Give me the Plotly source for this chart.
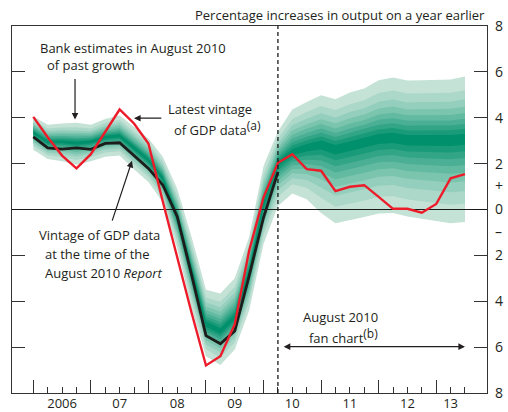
import plotly.graph_objects as go
from statistics import NormalDist

# Quarterly GDP growth, percentage change on a year earlier
quarters = [
    "2006Q1", "2006Q2", "2006Q3", "2006Q4", "2007Q1", "2007Q2", "2007Q3", "2007Q4",
    "2008Q1", "2008Q2", "2008Q3", "2008Q4", "2009Q1", "2009Q2", "2009Q3", "2009Q4",
    "2010Q1", "2010Q2", "2010Q3", "2010Q4", "2011Q1", "2011Q2", "2011Q3", "2011Q4",
    "2012Q1", "2012Q2", "2012Q3", "2012Q4", "2013Q1", "2013Q2", "2013Q3",
]

# Vintage of GDP data at the time of the August 2010 Report (to 2010Q2)
gdp_aug2010 = [3.17, 2.69, 2.63, 2.69, 2.62, 2.88, 2.91, 2.37, 1.79, 1.07,
               -0.30, -2.85, -5.50, -5.85, -5.30, -2.90, -0.35, 1.64]

# Latest vintage of GDP data
gdp_latest = [4.04, 3.15, 2.35, 1.79, 2.41, 3.39, 4.36, 3.75, 2.88, 0.35,
              -2.10, -4.50, -6.80, -6.40, -5.00, -1.80, 0.53, 2.04, 2.41, 1.76,
              1.69, 0.80, 0.99, 1.06, 0.55, 0.03, 0.03, -0.14, 0.24, 1.36, 1.54]

# August 2010 fan chart: mode and 90% bounds of the distribution
fan_mode = [3.35, 2.95, 2.95, 2.90, 2.95, 3.15, 3.20, 2.70, 2.15, 1.35,
            -0.30, -2.70, -5.00, -5.30, -4.70, -2.70, 0.20, 2.00, 2.50, 2.70,
            2.85, 2.65, 2.80, 2.95, 3.10, 3.15, 3.05, 3.05, 3.05, 3.05, 3.10]
fan_upper90 = [4.05, 3.70, 3.75, 3.78, 3.70, 3.95, 4.10, 3.60, 3.10, 2.30,
               0.90, -1.20, -3.50, -3.66, -3.00, -1.20, 1.90, 3.40, 4.36, 4.69,
               4.98, 4.81, 5.10, 5.28, 5.64, 5.76, 5.62, 5.64, 5.67, 5.67, 5.80]
fan_lower90 = [2.60, 2.20, 2.10, 1.95, 2.10, 2.30, 2.35, 1.75, 1.20, 0.30,
               -1.70, -4.30, -6.40, -6.78, -6.10, -4.40, -1.50, 0.15, 0.70, 0.45,
               -0.15, -0.60, -0.45, -0.33, -0.17, -0.15, -0.30, -0.40, -0.50, -0.60, -0.55]

year_labels = ["2006", "07", "08", "09", "10", "11", "12", "13"]
year_label_pos = [2, 6, 10, 14, 18, 22, 26, 29]
y_tick_vals = [-8, -6, -4, -2, -1, 0, 1, 2, 4, 6, 8]
y_tick_text = ["8", "6", "4", "2", "\u2013", "0", "+", "2", "4", "6", "8"]

x = list(range(len(quarters)))
X_LO, X_HI = -1.48, 31.53
Y_LO, Y_HI = -8, 8
FORECAST_START = quarters.index("2010Q2")

TEXT = "#231f20"
FONT = "Open Sans"

# probability bands: 90%, 80%, ... 10% (outermost first)
coverage = [0.9, 0.8, 0.7, 0.6, 0.5, 0.4, 0.3, 0.2, 0.1]
z = [NormalDist().inv_cdf(0.5 + c / 2) for c in coverage]
light = (197, 226, 214)
dark = (0, 145, 108)
band_colors = []
for i in range(len(coverage)):
    f = i / (len(coverage) - 1)
    rgb = [round(l + (d - l) * f) for l, d in zip(light, dark)]
    band_colors.append("rgb({},{},{})".format(*rgb))

fig = go.Figure()

for zc, col in zip(z, band_colors):
    r = zc / z[0]
    up = [m + (u - m) * r for m, u in zip(fan_mode, fan_upper90)]
    lo = [m - (m - l) * r for m, l in zip(fan_mode, fan_lower90)]
    fig.add_trace(go.Scatter(
        x=x + x[::-1], y=up + lo[::-1], mode="lines", fill="toself",
        fillcolor=col, line=dict(width=0), hoverinfo="skip", showlegend=False))

# zero line across the plot
fig.add_trace(go.Scatter(x=[X_LO, X_HI], y=[0, 0], mode="lines",
                         line=dict(color="#1a1a1a", width=1.1),
                         hoverinfo="skip", showlegend=False))

fig.add_trace(go.Scatter(x=x[:len(gdp_aug2010)], y=gdp_aug2010, mode="lines",
                         line=dict(color="#1d1d1b", width=2.8),
                         showlegend=False))
fig.add_trace(go.Scatter(x=x[:len(gdp_latest)], y=gdp_latest, mode="lines",
                         line=dict(color="#ec1c2a", width=2.4),
                         showlegend=False))

# invisible carrier so the label axes (x2 / y2) are drawn
fig.add_trace(go.Scatter(x=[X_LO, X_HI], y=[Y_LO, Y_HI], xaxis="x2", yaxis="y2",
                         mode="markers", marker=dict(opacity=0),
                         hoverinfo="skip", showlegend=False))

# start of the forecast period
fig.add_shape(type="line", xref="x", yref="paper",
              x0=FORECAST_START, x1=FORECAST_START, y0=0, y1=1,
              line=dict(color="#1a1a1a", width=1.3, dash="4px,3px"), layer="above")

ann_font = dict(family=FONT, size=13, color=TEXT)
SUP = '<sup><span style="font-size:12px">{}</span></sup>'


def label(text, xv, yv, anchor="left"):
    fig.add_annotation(x=xv, y=yv, xref="x", yref="y", text=text, showarrow=False,
                       xanchor=anchor, yanchor="middle", font=ann_font)


def arrow(x_tip, y_tip, x_tail, y_tail, both=False):
    fig.add_annotation(x=x_tip, y=y_tip, ax=x_tail, ay=y_tail, xref="x", yref="y",
                       axref="x", ayref="y", text="", showarrow=True,
                       arrowhead=2, arrowsize=1.1, arrowwidth=1.2, arrowcolor=TEXT,
                       arrowside="end+start" if both else "end",
                       startarrowhead=2, startarrowsize=1.1)


label("Bank estimates in August 2010", 0.33, 7.05)
label("of past growth", 0.81, 6.29)
arrow(2.9, 3.92, 2.9, 5.75)

label("Latest vintage", 9.2, 4.38)
label("of GDP data" + SUP.format("(a)"), 9.62, 3.55)
arrow(7.0, 3.98, 9.0, 3.98)

label("Vintage of GDP data", 4.6, -1.13, "center")
label("at the time of the", 4.45, -1.93, "center")
label("August 2010 <i>Report</i>", 4.9, -2.76, "center")
arrow(6.86, 2.12, 5.45, -0.55)

label("August 2010", 21.38, -4.68, "center")
label("fan chart" + SUP.format("(b)"), 21.55, -5.5, "center")
arrow(30.0, -5.98, 17.3, -5.98, both=True)

fig.add_annotation(xref="paper", yref="paper", x=1.0, y=1.031, xanchor="right",
                   yanchor="middle", showarrow=False,
                   text="Percentage increases in output on a year earlier",
                   font=ann_font)

axis_col = "#333333"
fig.update_layout(
    width=508, height=412,
    margin=dict(l=12, r=21, t=26, b=19),
    paper_bgcolor="white", plot_bgcolor="white",
    font=dict(family=FONT, color=TEXT),
    showlegend=False,
    xaxis=dict(
        range=[X_LO, X_HI], showline=True, linecolor=axis_col, linewidth=1.4,
        mirror=True, ticks="inside", tickmode="array",
        tickvals=[t for t in x if t % 4 == 0], ticklen=13, tickwidth=1.3,
        tickcolor=axis_col, showticklabels=False, showgrid=False, zeroline=False,
        automargin=False,
        minor=dict(tickmode="array", tickvals=[t for t in x if t % 4 != 0],
                   ticks="inside", ticklen=6, tickwidth=1.3, tickcolor=axis_col,
                   showgrid=False),
    ),
    xaxis2=dict(
        overlaying="x", anchor="y2", side="bottom", range=[X_LO, X_HI],
        tickmode="array", tickvals=year_label_pos, ticktext=year_labels,
        ticks="", showline=False, showgrid=False, zeroline=False,
        ticklabelstandoff=1,
        tickfont=dict(family=FONT, size=13, color=TEXT), automargin=False,
    ),
    yaxis=dict(
        range=[Y_LO, Y_HI], showline=True, linecolor=axis_col, linewidth=1.4,
        mirror="ticks", ticks="inside", tickmode="array",
        tickvals=[-6, -4, -2, 2, 4, 6], ticklen=13, tickwidth=1.3,
        tickcolor=axis_col, showticklabels=False, showgrid=False,
        zeroline=False, automargin=False,
    ),
    yaxis2=dict(
        overlaying="y", anchor="x2", side="right", range=[Y_LO, Y_HI],
        tickmode="array", tickvals=y_tick_vals, ticktext=y_tick_text,
        ticks="", showline=False, showgrid=False, zeroline=False,
        ticklabelstandoff=7,
        tickfont=dict(family=FONT, size=14, color=TEXT), automargin=False,
    ),
)

fig.write_html("out.html")
